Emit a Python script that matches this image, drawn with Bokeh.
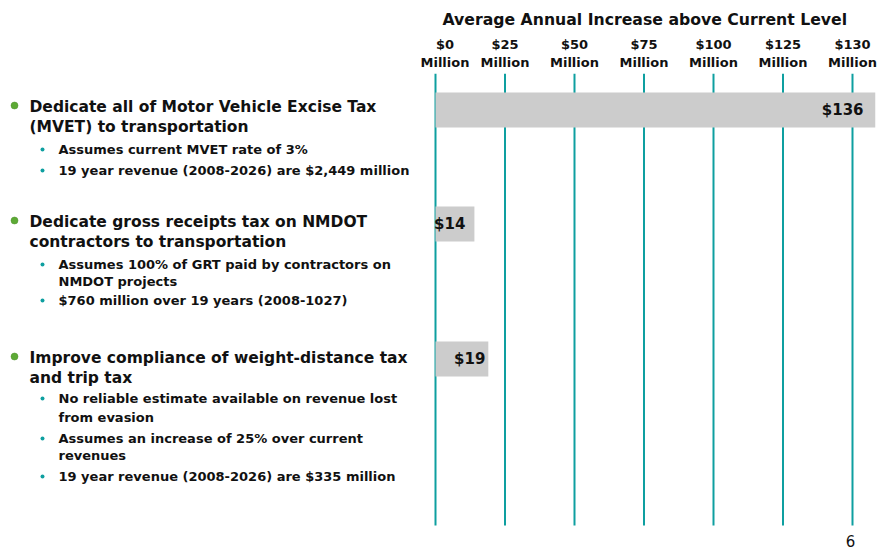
from bokeh.plotting import figure
from bokeh.models import Range1d, FixedTicker, ColumnDataSource
from bokeh.layouts import row
from bokeh.embed import file_html
from bokeh.resources import INLINE
from bokeh.core.properties import value

# ---------------- data ----------------
options = [
    "Dedicate all of Motor Vehicle Excise Tax (MVET) to transportation",
    "Dedicate gross receipts tax on NMDOT contractors to transportation",
    "Improve compliance of weight-distance tax and trip tax",
]
values = [136, 14, 19]
value_labels = ["$136", "$14", "$19"]
tick_values = [0, 25, 50, 75, 100, 125, 130]
tick_labels = ["$0\nMillion", "$25\nMillion", "$50\nMillion", "$75\nMillion",
               "$100\nMillion", "$125\nMillion", "$130\nMillion"]
chart_title = "Average Annual Increase above Current Level"

main_lines = [
    "Dedicate all of Motor Vehicle Excise Tax", "(MVET) to transportation",
    "Dedicate gross receipts tax on NMDOT", "contractors to transportation",
    "Improve compliance of weight-distance tax", "and trip tax",
]
sub_lines = [
    "Assumes current MVET rate of 3%",
    "19 year revenue (2008-2026) are $2,449 million",
    "Assumes 100% of GRT paid by contractors on", "NMDOT projects",
    "$760 million over 19 years (2008-1027)",
    "No reliable estimate available on revenue lost", "from evasion",
    "Assumes an increase of 25% over current", "revenues",
    "19 year revenue (2008-2026) are $335 million",
]
page_number = "6"

# ---------------- layout (screen positions) ----------------
main_y = [106, 126, 221, 241, 357, 377]
sub_y = [149, 170, 264, 281, 300, 398, 417, 438, 455, 476]
main_bullet_y = [105, 220, 356]
sub_bullet_y = [149, 170, 264, 300, 398, 438, 476]
row_y = [109.5, 223.5, 358.5]
label_dx = [-12, -9, -3]
grid_top, grid_bottom = 73, 525
page_num_y = 540

FONT = value("DejaVu Sans")
TEAL = "#0E9FA0"
TXT = "#111111"
TOP = 73

# ---------------- left text panel ----------------
left = figure(width=420, height=550, x_range=Range1d(0, 420), y_range=Range1d(550, TOP),
              output_backend="svg", toolbar_location=None,
              min_border_left=0, min_border_right=0, min_border_top=TOP,
              min_border_bottom=0)
left.axis.visible = False
left.grid.visible = False
left.outline_line_color = None

left.text(x=[29] * len(main_lines), y=main_y, text=main_lines, text_font=FONT,
          text_font_size="15.5px", text_font_style="bold", text_color=TXT,
          text_baseline="middle", text_align="left")
left.text(x=[58] * len(sub_lines), y=sub_y, text=sub_lines, text_font=FONT,
          text_font_size="13px", text_font_style="bold", text_color=TXT,
          text_baseline="middle", text_align="left")
left.scatter(x=[14] * len(main_bullet_y), y=main_bullet_y, size=7,
             fill_color="#5DAA35", line_color="#4A8F28", line_width=0.5)
left.scatter(x=[42] * len(sub_bullet_y), y=sub_bullet_y, size=4,
             fill_color=TEAL, line_color=None)


# ---------------- chart panel ----------------
def to_axis(v):
    """Map a $ value onto the (piecewise) axis whose ticks are evenly spaced."""
    for i in range(len(tick_values) - 1):
        a, b = tick_values[i], tick_values[i + 1]
        if v <= b:
            return i + (v - a) / (b - a)
    a, b = tick_values[-2], tick_values[-1]
    return len(tick_values) - 1 + (v - b) / (b - a)


x_end = 6.331
ticks = list(range(len(tick_values)))
right = figure(width=457, height=550, x_range=Range1d(-0.0288, x_end),
               y_range=Range1d(550, TOP), x_axis_location="above",
               output_backend="svg", toolbar_location=None,
               min_border_left=13, min_border_right=2, min_border_top=TOP,
               min_border_bottom=0)
right.outline_line_color = None
right.yaxis.visible = False
right.grid.visible = False

ax = right.xaxis[0]
ax.ticker = FixedTicker(ticks=ticks)
ax.major_label_overrides = {i: lab for i, lab in enumerate(tick_labels)}
ax.axis_line_color = None
ax.major_tick_line_color = None
ax.minor_tick_line_color = None
ax.major_tick_out = 0
ax.major_tick_in = 0
ax.major_label_standoff = 4
ax.major_label_text_font = "DejaVu Sans"
ax.major_label_text_font_style = "bold"
ax.major_label_text_font_size = "13px"
ax.major_label_text_color = TXT

# vertical value lines at the ticks (drawn under the bars)
right.segment(x0=ticks, y0=[grid_top] * len(ticks), x1=ticks,
              y1=[grid_bottom] * len(ticks), line_color=TEAL, line_width=2)

bar_right = [to_axis(v) for v in values]
src = ColumnDataSource(dict(y=row_y, right=bar_right,
                            lx=[min(r, x_end) for r in bar_right],
                            lab=value_labels, dx=label_dx))
right.hbar(y="y", left=0, right="right", height=35, source=src,
           fill_color="#CCCCCC", line_color=None)
right.text(x="lx", y="y", text="lab", source=src, x_offset="dx",
           text_font=FONT, text_font_size="15px", text_font_style="bold",
           text_color=TXT, text_align="right", text_baseline="middle")

right.text(x=[x_end], y=[page_num_y], text=[page_number], x_offset=-25,
           text_font=FONT, text_font_size="15px", text_color=TXT,
           text_align="center", text_baseline="middle")

right.title.text = chart_title
right.title.align = "left"
right.title.offset = 9
right.title.text_font = "DejaVu Sans"
right.title.text_font_size = "15.7px"
right.title.text_font_style = "bold"
right.title.text_color = TXT

layout = row(left, right)
open("out.html", "w").write(file_html(layout, INLINE))
